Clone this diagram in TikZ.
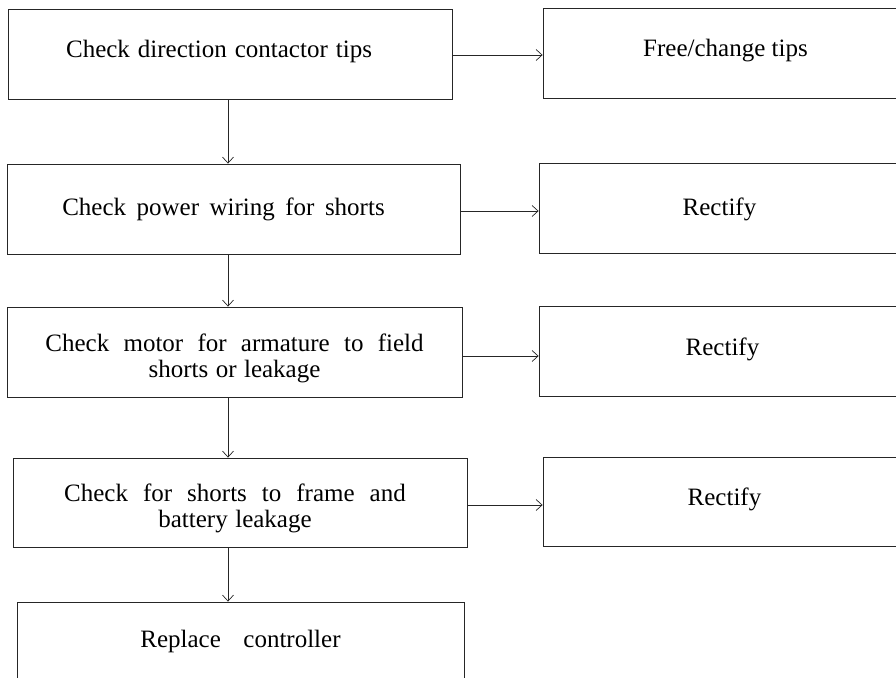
\documentclass[tikz,border=0pt]{standalone}
\usepackage{fontspec}
\setmainfont{Liberation Serif}
\usetikzlibrary{arrows.meta}
% word spacing inside a label, in em of the current font
\newcommand{\wsp}[1]{\spaceskip=#1em plus 0.1em\relax}
\tikzset{
  box/.style={draw=black!85, line width=0.8pt, inner sep=0pt},
  txt/.style={align=center, inner sep=0pt, font=\fontsize{25}{26}\selectfont},
  arr/.style={draw=black!85, line width=0.7pt, -{Straight Barb[length=6pt,width=11pt]}}
}
\begin{document}
\begin{tikzpicture}[x=1pt,y=-1pt]
\useasboundingbox (0,0) rectangle (896,677);
\clip (0,0) rectangle (896,677);
% left column of checks
\node[box, minimum width=444pt, minimum height=90pt] (b1) at (230,54) {};
\node[box, minimum width=453pt, minimum height=90pt] (b2) at (233.5,209) {};
\node[box, minimum width=455pt, minimum height=90pt] (b3) at (234.5,352) {};
\node[box, minimum width=454pt, minimum height=89pt] (b4) at (240,502.5) {};
\node[box, minimum width=447pt, minimum height=90pt] (b5) at (240.5,647) {};
\node[txt, xshift=-11pt, yshift=3pt] (t1) at (b1) {\wsp{0.32}Check direction contactor tips};
\node[txt, xshift=-10pt] (t2) at (b2) {\wsp{0.42}Check power wiring for shorts};
\node[txt, yshift=-6pt] (t3) at (b3) {\wsp{0.57}Check motor for armature to field\\\wsp{0.3}shorts or leakage};
\node[txt, xshift=-5pt, yshift=-6pt] (t4) at (b4) {\wsp{0.6}Check for shorts to frame and\\\wsp{0.3}battery leakage};
\node[txt, yshift=6pt] (t5) at (b5) {\wsp{0.9}Replace controller};
% right column of remedies
\node[box, minimum width=357pt, minimum height=90pt] (r1) at (721.5,53) {};
\node[box, minimum width=361pt, minimum height=90pt] (r2) at (719.5,208) {};
\node[box, minimum width=361pt, minimum height=90pt] (r3) at (719.5,351) {};
\node[box, minimum width=357pt, minimum height=89pt] (r4) at (721.5,501.5) {};
\node[txt, xshift=4pt, yshift=2pt] (s1) at (r1) {Free/change tips};
\node[txt, yshift=-1pt] (s2) at (r2) {Rectify};
\node[txt, xshift=3pt, yshift=2pt] (s3) at (r3) {Rectify};
\node[txt, xshift=3pt, yshift=2pt] (s4) at (r4) {Rectify};
% downward flow
\draw[arr] (b1.south -| 228,0) -- (b2.north -| 228,0);
\draw[arr] (b2.south -| 228,0) -- (b3.north -| 228,0);
\draw[arr] (b3.south -| 228,0) -- (b4.north -| 228,0);
\draw[arr] (b4.south -| 228,0) -- (b5.north -| 228,0);
% branches to the right
\draw[arr] (b1.east |- 0,55) -- (r1.west |- 0,55);
\draw[arr] (b2.east |- 0,211) -- (r2.west |- 0,211);
\draw[arr] (b3.east |- 0,356) -- (r3.west |- 0,356);
\draw[arr] (b4.east |- 0,505) -- (r4.west |- 0,505);
\end{tikzpicture}
\end{document}
